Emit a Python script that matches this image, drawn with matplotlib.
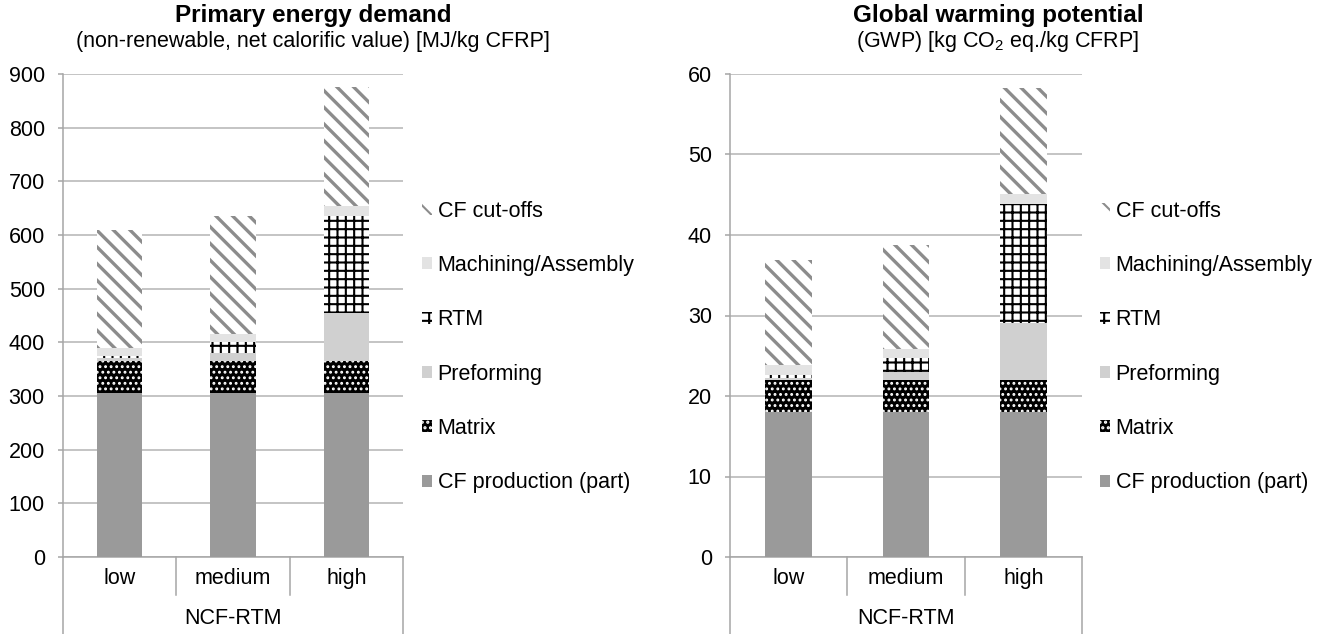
import matplotlib
matplotlib.use('Agg')
import matplotlib.pyplot as plt
import numpy as np

plt.rcParams['font.family'] = ['Liberation Sans', 'DejaVu Sans']
plt.rcParams['mathtext.fontset'] = 'custom'
plt.rcParams['mathtext.rm'] = 'Liberation Sans'
plt.rcParams['hatch.linewidth'] = 1.5

# ---------------- data ----------------
categories = ['low', 'medium', 'high']
group_label = 'NCF-RTM'
series = ['CF production (part)', 'Matrix', 'Preforming', 'RTM',
          'Machining/Assembly', 'CF cut-offs']

ped_cf_production = [306, 306, 306]
ped_matrix = [60, 60, 60]
ped_preforming = [4, 15, 89]
ped_rtm = [4, 20, 180]
ped_machining = [16, 14, 19]
ped_cutoffs = [220, 220, 221]

gwp_cf_production = [18.0, 18.0, 18.0]
gwp_matrix = [4.0, 4.0, 4.0]
gwp_preforming = [0.2, 1.0, 7.1]
gwp_rtm = [0.4, 1.7, 14.7]
gwp_machining = [1.2, 1.1, 1.3]
gwp_cutoffs = [13.1, 13.0, 13.1]

ped_ticks = [0, 100, 200, 300, 400, 500, 600, 700, 800, 900]
gwp_ticks = [0, 10, 20, 30, 40, 50, 60]

# ---------------- styles ----------------
GRAY = '#a6a6a6'
GRID = '#b4b4b4'
styles = [
    dict(face='#9a9a9a', hatch=None, hc=None, hlw=None),
    dict(face='black', hatch='...', hc='white', hlw=1.3),
    dict(face='#d0d0d0', hatch=None, hc=None, hlw=None),
    dict(face='white', hatch='++', hc='black', hlw=1.5),
    dict(face='#e3e3e3', hatch=None, hc=None, hlw=None),
    dict(face='white', hatch='\\\\', hc='#8c8c8c', hlw=2.4),
]
FS = 15.5

W, H = 1325, 634
fig = plt.figure(figsize=(W / 100, H / 100), dpi=100)


def make_chart(rect, values, ticks, title, subtitle, tcx, legend_x):
    ax = fig.add_axes(rect)
    x = np.arange(len(categories)) + 0.5
    bottom = np.zeros(len(categories))
    handles = []
    for vals, st in zip(values, styles):
        kw = dict(color=st['face'], linewidth=0)
        if st['hatch']:
            kw.update(hatch=st['hatch'], edgecolor=st['hc'])
        bars = ax.bar(x, vals, 0.4, bottom=bottom, zorder=3, **kw)
        if st['hatch'] and st['hlw'] is not None:
            for p in bars:
                if hasattr(p, 'set_hatch_linewidth'):
                    p.set_hatch_linewidth(st['hlw'])
        handles.append(bars[0])
        bottom = bottom + np.array(vals)
    ax.set_xlim(0, len(categories))
    ax.set_ylim(ticks[0], ticks[-1])
    ax.set_yticks(ticks)
    ax.set_xticks(x)
    ax.set_xticklabels(categories, fontsize=FS)
    ax.tick_params(axis='x', length=0, pad=8)
    ax.tick_params(axis='y', length=3.6, width=1.1, color=GRAY, pad=9.5,
                   labelsize=FS)
    ax.yaxis.grid(True, color=GRID, linewidth=1.1, zorder=0)
    ax.set_axisbelow(True)
    for s in ['top', 'right']:
        ax.spines[s].set_visible(False)
    for s in ['left', 'bottom']:
        ax.spines[s].set_color(GRAY)
        ax.spines[s].set_linewidth(1.1)
    trans = ax.get_xaxis_transform()
    axh = rect[3] * H
    for xb in range(1, len(categories)):
        ax.plot([xb, xb], [0, -38 / axh], transform=trans, color=GRAY,
                lw=1.1, clip_on=False)
    for xb in [0, len(categories)]:
        ax.plot([xb, xb], [0, -(H - 557 + 5) / axh], transform=trans,
                color=GRAY, lw=1.1, clip_on=False)
    ax.text(len(categories) / 2, -(618 - 557) / axh, group_label,
            transform=trans, ha='center', va='center', fontsize=FS)
    fig.text(tcx / W, 1 - 22 / H, title, ha='center', va='baseline',
             fontsize=17.5, fontweight='bold')
    fig.text(tcx / W, 1 - 47 / H, subtitle, ha='center', va='baseline',
             fontsize=FS)
    fig.legend(handles[::-1], series[::-1], loc='center left',
               bbox_to_anchor=(legend_x / W, 1 - 347 / H), frameon=False,
               borderpad=0, borderaxespad=0, handlelength=0.47,
               handleheight=0.47, handletextpad=0.25, labelspacing=1.55,
               fontsize=FS)
    return ax


make_chart([63 / W, 1 - 557 / H, 340 / W, 483 / H],
           [ped_cf_production, ped_matrix, ped_preforming, ped_rtm,
            ped_machining, ped_cutoffs],
           ped_ticks, 'Primary energy demand',
           '(non-renewable, net calorific value) [MJ/kg CFRP]', 313, 422)

make_chart([730 / W, 1 - 557 / H, 352 / W, 483 / H],
           [gwp_cf_production, gwp_matrix, gwp_preforming, gwp_rtm,
            gwp_machining, gwp_cutoffs],
           gwp_ticks, 'Global warming potential',
           r'(GWP) [kg CO$_{\mathregular{2}}$ eq./kg CFRP]', 998, 1100)

fig.savefig('out.png', dpi=100)
